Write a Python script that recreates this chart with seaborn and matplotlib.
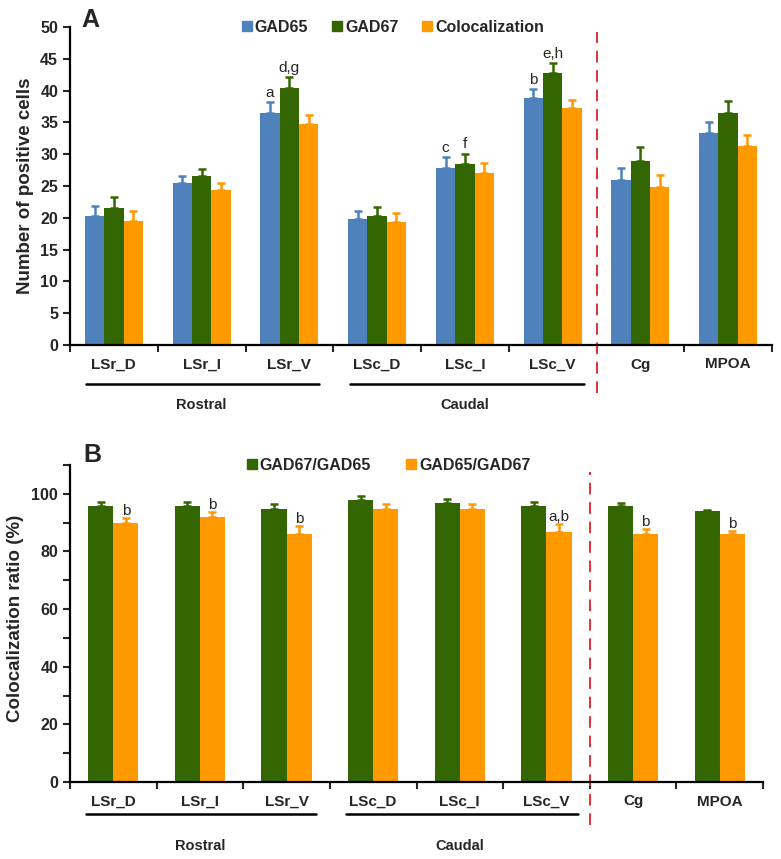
import numpy as np
import pandas as pd
import seaborn as sns
import matplotlib.pyplot as plt
from matplotlib.lines import Line2D
import matplotlib.transforms as mtransforms

regions = ["LSr_D", "LSr_I", "LSr_V", "LSc_D", "LSc_I", "LSc_V", "Cg", "MPOA"]

# panel A: number of positive cells (mean, upper error)
gad65 = [20.3, 25.4, 36.4, 19.8, 27.9, 38.8, 25.9, 33.3]
gad65_err = [1.6, 1.1, 1.8, 1.3, 1.7, 1.5, 2.0, 1.7]
gad67 = [21.5, 26.5, 40.4, 20.3, 28.5, 42.8, 28.9, 36.4]
gad67_err = [1.8, 1.1, 1.7, 1.4, 1.6, 1.6, 2.3, 1.9]
coloc = [19.5, 24.3, 34.7, 19.4, 27.1, 37.2, 24.8, 31.3]
coloc_err = [1.6, 1.1, 1.5, 1.4, 1.5, 1.4, 2.0, 1.7]
letters_a = {("GAD65", "LSr_V"): "a", ("GAD67", "LSr_V"): "d,g",
             ("GAD65", "LSc_I"): "c", ("GAD67", "LSc_I"): "f",
             ("GAD65", "LSc_V"): "b", ("GAD67", "LSc_V"): "e,h"}

# panel B: colocalization ratio (%)
r67_65 = [95.9, 95.9, 94.9, 97.9, 96.9, 95.9, 95.9, 94.0]
r67_65_err = [1.4, 1.2, 1.5, 1.2, 1.3, 1.3, 0.8, 0.5]
r65_67 = [90.0, 91.9, 85.9, 94.9, 94.9, 86.9, 85.9, 85.9]
r65_67_err = [1.5, 1.7, 2.8, 1.7, 1.6, 2.6, 1.9, 1.1]
letters_b = {("GAD65/GAD67", "LSr_D"): "b", ("GAD65/GAD67", "LSr_I"): "b",
             ("GAD65/GAD67", "LSr_V"): "b", ("GAD65/GAD67", "LSc_V"): "a,b",
             ("GAD65/GAD67", "Cg"): "b", ("GAD65/GAD67", "MPOA"): "b"}

blue, green, orange = "#4F81BD", "#336600", "#FF9900"
red = "#E0303A"

sns.set_style("ticks")
plt.rcParams["font.family"] = ["Liberation Sans", "DejaVu Sans"]

fig = plt.figure(figsize=(7.81, 8.59), dpi=100)
ax_a = fig.add_axes([70 / 781, 514 / 859, 702 / 781, 318 / 859])
ax_b = fig.add_axes([70 / 781, 77 / 859, 693 / 781, 317 / 859])


def draw_panel(ax, names, vals, errs, colors, width, letters, gap_letter, colspace):
    df = pd.DataFrame({
        "region": regions * len(names),
        "series": [n for n in names for _ in regions],
        "value": [v for vs in vals for v in vs],
    })
    sns.barplot(data=df, x="region", y="value", hue="series", order=regions,
                hue_order=names, palette=colors, width=width, gap=0,
                saturation=1, errorbar=None, legend=False, ax=ax,
                linewidth=0, edgecolor="none")
    for cont, name, err, col in zip(ax.containers, names, errs, colors):
        xs = [b.get_x() + b.get_width() / 2 for b in cont]
        ys = [b.get_height() for b in cont]
        ax.errorbar(xs, ys, yerr=[np.zeros(len(err)), err], fmt="none",
                    ecolor=col, elinewidth=1.8, capsize=3, capthick=1.8)
        for x, y, e, reg in zip(xs, ys, err, regions):
            lab = letters.get((name, reg))
            if lab:
                ax.text(x, y + e + gap_letter, lab, ha="center", va="baseline",
                        fontsize=11)
    ax.set_xlim(-0.5, 7.5)
    ax.set_xticks(np.arange(-0.5, 8, 1))
    ax.set_xticklabels([])
    ax.set_xticks(np.arange(8), minor=True)
    ax.set_xticklabels(regions, minor=True, fontsize=11, fontweight="bold")
    ax.tick_params(axis="x", which="major", length=5, width=1.5, direction="out")
    ax.tick_params(axis="x", which="minor", length=0, pad=9)
    ax.tick_params(axis="y", which="both", length=5, width=1.5, labelsize=11.5)
    ax.set_xlabel("")
    sns.despine(ax=ax)
    for s in ["left", "bottom"]:
        ax.spines[s].set_linewidth(1.6)
        ax.spines[s].set_color("black")
    ax.legend(handles=[Line2D([], [], marker="s", linestyle="none", color=c,
                              markersize=6.5) for c in colors],
              labels=names, ncol=len(names), frameon=False,
              prop={"weight": "bold", "size": 11.5}, handlelength=0.6,
              handletextpad=0.2, columnspacing=colspace,
              loc="center", bbox_to_anchor=(0.46, 1.0))


draw_panel(ax_a, ["GAD65", "GAD67", "Colocalization"],
           [gad65, gad67, coloc], [gad65_err, gad67_err, coloc_err],
           [blue, green, orange], 0.66, letters_a, 0.8, 1.5)
ax_a.set_ylim(0, 50)
ax_a.set_yticks(np.arange(0, 51, 5))
for t in ax_a.get_yticklabels():
    t.set_fontweight("bold")
ax_a.set_ylabel("Number of positive cells", fontsize=13.5, fontweight="bold",
                va="center")
ax_a.yaxis.set_label_coords(-0.064, 0.5)

draw_panel(ax_b, ["GAD67/GAD65", "GAD65/GAD67"], [r67_65, r65_67],
           [r67_65_err, r65_67_err], [green, orange], 0.58, letters_b, 1.2, 2.2)
ax_b.set_ylim(0, 110)
ax_b.set_yticks(np.arange(0, 101, 20))
ax_b.set_yticks(np.arange(10, 111, 20), minor=True)
for t in ax_b.get_yticklabels():
    t.set_fontweight("bold")
ax_b.set_ylabel("Colocalization ratio (%)", fontsize=13.5, fontweight="bold",
                va="center")
ax_b.yaxis.set_label_coords(-0.078, 0.517)

# group underlines, group names and the dashed separator
for ax, y_line, y_name, y_dash in [(ax_a, -0.123, -0.189, (-0.151, 0.984)),
                                   (ax_b, -0.101, -0.202, (-0.136, 0.978))]:
    tr = mtransforms.blended_transform_factory(ax.transData, ax.transAxes)
    for x0, x1, name in [(-0.32, 2.34, "Rostral"), (2.69, 5.36, "Caudal")]:
        ax.add_line(Line2D([x0, x1], [y_line, y_line], color="black", lw=1.8,
                           transform=tr, clip_on=False))
        ax.text(1 if name == "Rostral" else 4, y_name, name, transform=tr,
                ha="center", va="center", fontsize=10.5, fontweight="bold")
    ax.add_line(Line2D([5.5, 5.5], list(y_dash), color=red, lw=1.4,
                       linestyle=(0, (6, 4)), transform=tr, clip_on=False))

fig.text(90 / 781, 1 - 20 / 859, "A", fontsize=18, fontweight="bold",
         ha="center", va="center")
fig.text(92 / 781, 1 - 455 / 859, "B", fontsize=18, fontweight="bold",
         ha="center", va="center")

fig.savefig("out.png", dpi=100)
